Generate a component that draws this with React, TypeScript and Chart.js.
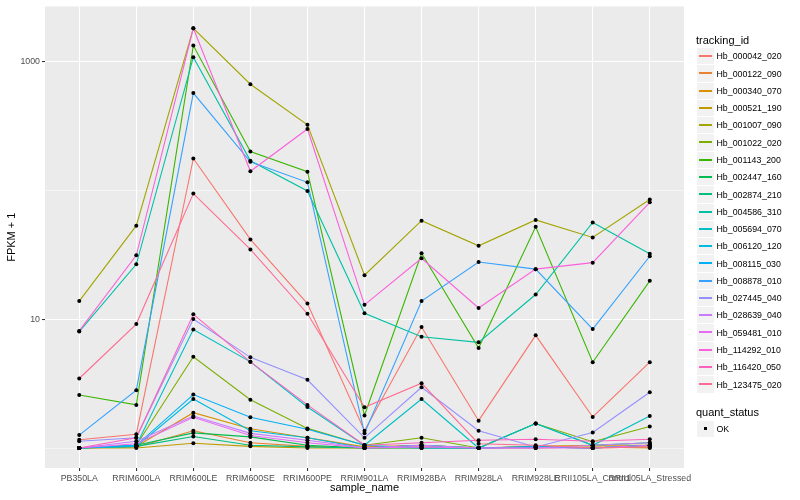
import React, { useEffect, useRef } from "react";
import { Chart, registerables } from "chart.js";

Chart.register(...registerables);

const FONT = '"Liberation Sans", Arial, Helvetica, sans-serif';

const categories = [
  "PB350LA",
  "RRIM600LA",
  "RRIM600LE",
  "RRIM600SE",
  "RRIM600PE",
  "RRIM901LA",
  "RRIM928BA",
  "RRIM928LA",
  "RRIM928LE",
  "RRII105LA_Control",
  "RRII105LA_Stressed",
];

const seriesNames = [
  "Hb_000042_020",
  "Hb_000122_090",
  "Hb_000340_070",
  "Hb_000521_190",
  "Hb_001007_090",
  "Hb_001022_020",
  "Hb_001143_200",
  "Hb_002447_160",
  "Hb_002874_210",
  "Hb_004586_310",
  "Hb_005694_070",
  "Hb_006120_120",
  "Hb_008115_030",
  "Hb_008878_010",
  "Hb_027445_040",
  "Hb_028639_040",
  "Hb_059481_010",
  "Hb_114292_010",
  "Hb_116420_050",
  "Hb_123475_020",
];

const seriesColors = [
  "#F8766D", "#EA8331", "#D89000", "#C09B00", "#A3A500",
  "#7CAE00", "#39B600", "#00BB4E", "#00BF7D", "#00C1A3",
  "#00BFC4", "#00BAE0", "#00B0F6", "#35A2FF", "#9590FF",
  "#C77CFF", "#E76BF3", "#FA62DB", "#FF62BC", "#FF6C91",
];

// FPKM + 1 values per series, one per sample_name
const hb000042_020 = [1.16, 1.28, 176, 41.5, 13.2, 1.36, 8.67, 1.63, 7.48, 1.74, 4.63];
const hb000122_090 = [1.0, 1.02, 1.36, 1.1, 1.03, 1.0, 1.02, 1.0, 1.02, 1.0, 1.02];
const hb000340_070 = [1.0, 1.03, 1.88, 1.41, 1.2, 1.02, 1.05, 1.0, 1.03, 1.05, 1.05];
const hb000521_190 = [1.0, 1.0, 1.09, 1.03, 1.0, 1.0, 1.0, 1.0, 1.0, 1.02, 1.0];
const hb001007_090 = [13.8, 53, 1800, 663, 321, 21.9, 58, 37, 58.8, 43, 84.5];
const hb001022_020 = [1.0, 1.05, 5.1, 2.37, 1.42, 1.05, 1.2, 1.0, 1.55, 1.12, 1.47];
const hb001143_200 = [2.58, 2.16, 1322, 199, 139, 1.79, 32.4, 5.97, 52, 4.63, 19.8];
const hb002447_160 = [1.0, 1.05, 1.31, 1.22, 1.05, 1.0, 1.05, 1.0, 1.02, 1.0, 1.05];
const hb002874_210 = [1.0, 1.03, 1.23, 1.05, 1.02, 1.0, 1.0, 1.0, 1.55, 1.05, 1.1];
const hb004586_310 = [8.0, 26.6, 1075, 169, 98.6, 11.1, 7.3, 6.6, 15.5, 56.1, 32.1];
const hb005694_070 = [1.0, 1.05, 8.3, 4.66, 2.08, 1.05, 2.4, 1.0, 1.55, 1.05, 1.77];
const hb006120_120 = [1.0, 1.03, 2.4, 1.36, 1.2, 1.0, 1.05, 1.0, 1.02, 1.0, 1.05];
const hb008115_030 = [1.0, 1.05, 2.6, 1.73, 1.4, 1.05, 1.0, 1.0, 1.02, 1.0, 1.05];
const hb008878_010 = [1.26, 2.81, 566, 166, 115, 1.3, 13.8, 27.7, 24.4, 8.37, 30.7];
const hb027445_040 = [1.13, 1.2, 10.0, 5.05, 3.38, 1.2, 2.96, 1.36, 1.02, 1.32, 2.71];
const hb028639_040 = [1.0, 1.13, 1.77, 1.3, 1.15, 1.0, 1.05, 1.0, 1.0, 1.05, 1.1];
const hb059481_010 = [1.0, 1.08, 1.73, 1.25, 1.1, 1.0, 1.02, 1.0, 1.0, 1.0, 1.05];
const hb114292_010 = [8.1, 31.2, 1800, 140, 298, 12.9, 29.6, 12.2, 24.4, 27.4, 80.5];
const hb116420_050 = [1.0, 1.2, 10.9, 4.66, 2.16, 1.05, 1.1, 1.15, 1.17, 1.13, 1.17];
const hb123475_020 = [3.46, 9.15, 94, 34.7, 11.0, 2.07, 3.18, 1.08, 1.05, 1.0, 1.02];

const seriesValues = [
  hb000042_020, hb000122_090, hb000340_070, hb000521_190, hb001007_090,
  hb001022_020, hb001143_200, hb002447_160, hb002874_210, hb004586_310,
  hb005694_070, hb006120_120, hb008115_030, hb008878_010, hb027445_040,
  hb028639_040, hb059481_010, hb114292_010, hb116420_050, hb123475_020,
];

const yLabeledTicks = [10, 1000];
const yAllTicks = [1, 10, 100, 1000];
const quantStatus = ["OK"];

const panelBackground = {
  id: "panelBackground",
  beforeDraw(chart: any) {
    const { ctx, chartArea: a } = chart;
    ctx.save();
    ctx.fillStyle = "#EBEBEB";
    ctx.fillRect(a.left, a.top, a.right - a.left, a.bottom - a.top);
    ctx.restore();
  },
};

export default function App() {
  const canvasRef = useRef<HTMLCanvasElement | null>(null);

  useEffect(() => {
    if (!canvasRef.current) return;
    Chart.defaults.font.family = FONT;

    const lineSets = seriesValues.map((vals, s) => ({
      type: "line" as const,
      label: seriesNames[s],
      data: vals.map((v, i) => ({ x: i, y: v })),
      borderColor: seriesColors[s],
      backgroundColor: seriesColors[s],
      borderWidth: 1.1,
      pointRadius: 0,
      tension: 0,
      fill: false,
      order: seriesNames.length - s,
    }));

    const pointSet = {
      type: "line" as const,
      label: "quant_status",
      data: seriesValues.flatMap((vals) => vals.map((v, i) => ({ x: i, y: v }))),
      showLine: false,
      pointRadius: 2,
      pointBackgroundColor: "#000000",
      pointBorderWidth: 0,
      borderColor: "#000000",
      order: -1,
    };

    const chart = new Chart(canvasRef.current, {
      type: "line",
      data: { datasets: [...lineSets, pointSet] as any },
      plugins: [panelBackground],
      options: {
        animation: false,
        responsive: false,
        layout: { padding: { left: 0, top: 3, right: 116, bottom: 0 } },
        plugins: {
          legend: { display: false },
          tooltip: { enabled: false },
        },
        scales: {
          x: {
            type: "linear",
            min: -0.6,
            max: 10.6,
            afterBuildTicks: (scale: any) => {
              scale.ticks = categories.map((_, i) => ({ value: i }));
            },
            afterFit: (scale: any) => {
              scale.height = 32;
            },
            ticks: {
              autoSkip: false,
              maxRotation: 0,
              minRotation: 0,
              color: "#4D4D4D",
              font: { size: 8.8, family: FONT },
              padding: 2,
              callback: (v: any) => categories[v] ?? "",
            },
            grid: {
              color: "#FFFFFF",
              lineWidth: 1.07,
              tickColor: "#333333",
              tickLength: 3,
              drawTicks: true,
            },
            border: { display: false },
            title: {
              display: true,
              text: "sample_name",
              color: "#000000",
              font: { size: 11, family: FONT },
              padding: { top: 0, bottom: 5 },
            },
          },
          y: {
            type: "logarithmic",
            min: 0.707,
            max: 2661,
            afterBuildTicks: (scale: any) => {
              scale.ticks = yAllTicks.map((v) => ({ value: v }));
            },
            afterFit: (scale: any) => {
              scale.width = 45;
            },
            ticks: {
              color: "#4D4D4D",
              font: { size: 8.8, family: FONT, lineHeight: 1 },
              padding: 2,
              autoSkip: false,
              callback: (v: any) => (yLabeledTicks.includes(Number(v)) ? String(v) : ""),
            },
            grid: {
              color: "#FFFFFF",
              lineWidth: (ctx: any) =>
                yLabeledTicks.includes(ctx.tick?.value) ? 1.07 : 0.53,
              tickColor: (ctx: any) =>
                yLabeledTicks.includes(ctx.tick?.value) ? "#333333" : "rgba(0,0,0,0)",
              tickLength: 3,
              drawTicks: true,
            },
            border: { display: false },
            title: {
              display: true,
              text: "FPKM + 1",
              color: "#000000",
              font: { size: 11, family: FONT },
              padding: { top: 5.5, bottom: 0 },
            },
          },
        },
      } as any,
    });

    return () => chart.destroy();
  }, []);

  const rowH = 17.28;
  const legendTop = 48;

  return (
    <div
      style={{
        position: "fixed",
        left: 0,
        top: 0,
        width: 800,
        height: 500,
        background: "#FFFFFF",
        fontFamily: FONT,
        overflow: "hidden",
      }}
    >
      <canvas ref={canvasRef} width={800} height={500} style={{ position: "absolute", left: 0, top: 0 }} />
      <div style={{ position: "absolute", left: 696, top: 33, fontSize: 11, lineHeight: "15px", color: "#000" }}>
        tracking_id
      </div>
      {seriesNames.map((name, i) => {
        const top = Math.round(legendTop + i * rowH);
        const next = Math.round(legendTop + (i + 1) * rowH);
        const h = next - top;
        return (
          <div key={name}>
            <div
              style={{
                position: "absolute",
                left: 697,
                top,
                width: 17,
                height: h - 1,
                background: "#F2F2F2",
              }}
            >
              <div
                style={{
                  position: "absolute",
                  left: 2,
                  width: 13,
                  top: Math.floor((h - 1) / 2) - 1,
                  height: 2,
                  background: seriesColors[i],
                }}
              />
            </div>
            <div
              style={{
                position: "absolute",
                left: 716.5,
                top,
                height: h,
                lineHeight: `${h}px`,
                fontSize: 8.8,
                color: "#000",
                whiteSpace: "nowrap",
              }}
            >
              {name}
            </div>
          </div>
        );
      })}
      <div style={{ position: "absolute", left: 696, top: 405, fontSize: 11, lineHeight: "15px", color: "#000" }}>
        quant_status
      </div>
      {quantStatus.map((q, i) => (
        <div key={q}>
          <div
            style={{
              position: "absolute",
              left: 697,
              top: 421 + i * 17,
              width: 17,
              height: 16,
              background: "#F2F2F2",
            }}
          >
            <div
              style={{
                position: "absolute",
                left: 7,
                top: 6,
                width: 3,
                height: 3,
                background: "#000",
              }}
            />
          </div>
          <div
            style={{
              position: "absolute",
              left: 716.5,
              top: 421 + i * 17,
              height: 16,
              lineHeight: "16px",
              fontSize: 8.8,
              color: "#000",
            }}
          >
            {q}
          </div>
        </div>
      ))}
    </div>
  );
}
